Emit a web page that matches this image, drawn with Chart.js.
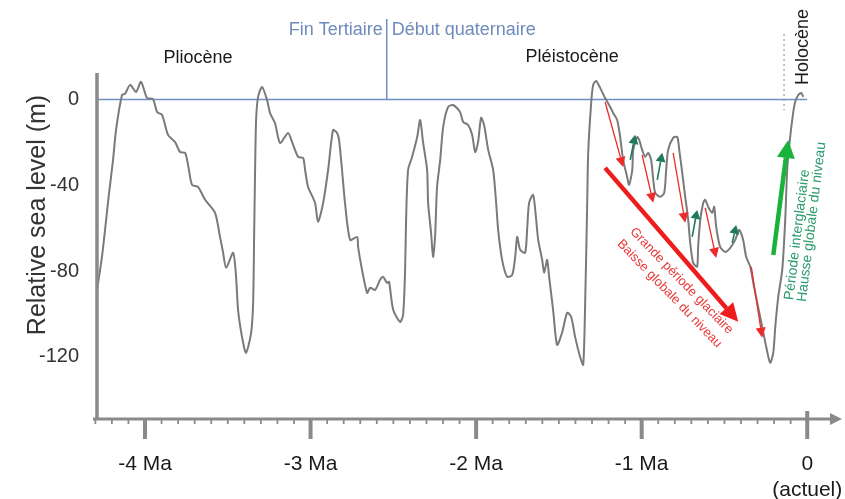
<!DOCTYPE html>
<html>
<head>
<meta charset="utf-8">
<title>Relative sea level</title>
<script src="https://cdn.jsdelivr.net/npm/chart.js@4.4.1/dist/chart.umd.min.js"></script>
<style>
  html, body { margin: 0; padding: 0; background: #fff; }
  canvas { display: block; }
</style>
</head>
<body>
<canvas id="seaChart" width="845" height="499"></canvas>
<script>
// age in Ma (negative = before present) and relative sea level in m
const ages = [-4.290,-4.260,-4.217,-4.193,-4.175,-4.139,-4.121,-4.090,-4.054,-4.024,
  -3.988,-3.952,-3.927,-3.897,-3.861,-3.819,-3.788,-3.758,-3.740,-3.716,
  -3.680,-3.637,-3.577,-3.547,-3.529,-3.510,-3.468,-3.450,-3.438,-3.414,
  -3.390,-3.359,-3.347,-3.341,-3.335,-3.329,-3.317,-3.293,-3.263,-3.245,
  -3.215,-3.184,-3.136,-3.112,-3.075,-3.045,-3.033,-3.015,-2.973,-2.955,
  -2.924,-2.894,-2.864,-2.840,-2.828,-2.810,-2.792,-2.761,-2.719,-2.713,
  -2.689,-2.658,-2.640,-2.610,-2.580,-2.562,-2.538,-2.526,-2.501,-2.459,
  -2.441,-2.429,-2.423,-2.411,-2.387,-2.356,-2.338,-2.320,-2.296,-2.290,
  -2.272,-2.260,-2.248,-2.236,-2.217,-2.199,-2.169,-2.139,-2.097,-2.078,
  -2.048,-2.024,-2.006,-1.988,-1.970,-1.952,-1.927,-1.897,-1.879,-1.867,
  -1.843,-1.813,-1.782,-1.764,-1.752,-1.734,-1.704,-1.692,-1.680,-1.656,
  -1.643,-1.625,-1.601,-1.589,-1.571,-1.559,-1.535,-1.511,-1.481,-1.450,
  -1.426,-1.402,-1.372,-1.353,-1.341,-1.329,-1.323,-1.305,-1.293,-1.275,
  -1.251,-1.221,-1.190,-1.172,-1.148,-1.130,-1.112,-1.088,-1.076,-1.057,
  -1.051,-1.027,-1.015,-0.997,-0.979,-0.961,-0.943,-0.930,-0.918,-0.888,
  -0.864,-0.852,-0.840,-0.810,-0.785,-0.773,-0.755,-0.737,-0.719,-0.707,
  -0.689,-0.665,-0.659,-0.646,-0.628,-0.616,-0.598,-0.574,-0.562,-0.550,
  -0.526,-0.495,-0.465,-0.435,-0.411,-0.387,-0.369,-0.344,-0.326,-0.302,
  -0.272,-0.248,-0.224,-0.205,-0.193,-0.175,-0.151,-0.133,-0.121,-0.103,
  -0.085,-0.073,-0.054,-0.036,-0.024];
const seaLevel = [-88.8,-73.4,-43.6,-28.2,-14.2,2.1,2.6,6.8,3.5,8.2,
  0.7,0.2,-5.8,-7.2,-16.5,-19.8,-24.5,-24.9,-30.5,-39.8,
  -40.8,-46.8,-52.9,-64.1,-71.1,-78.5,-71.5,-82.7,-98.1,-110.7,
  -118.1,-108.8,-94.8,-64.1,-32.9,-9.6,1.2,5.8,-0.2,-6.3,
  -11.0,-20.3,-15.6,-19.8,-26.8,-27.3,-32.9,-40.8,-48.2,-57.1,
  -48.2,-32.9,-14.2,-15.6,-18.9,-32.9,-48.2,-65.5,-64.1,-68.7,
  -79.5,-90.2,-87.8,-88.8,-84.1,-82.7,-85.5,-85.0,-98.1,-103.7,
  -100.4,-79.5,-56.2,-32.9,-26.8,-17.5,-9.6,-20.3,-32.9,-48.2,
  -62.2,-73.4,-64.1,-40.8,-28.2,-12.8,-3.5,-2.6,-5.8,-10.5,
  -11.9,-16.5,-24.5,-19.8,-8.6,-11.9,-23.5,-32.9,-48.2,-60.8,
  -74.8,-82.7,-81.8,-73.4,-64.1,-70.1,-71.5,-60.8,-48.2,-44.5,
  -51.5,-65.5,-74.8,-80.8,-74.8,-82.7,-98.1,-114.4,-108.8,-99.5,
  -101.3,-110.7,-120.0,-123.7,-93.4,-48.2,-24.9,-1.6,6.8,8.6,
  5.4,0.7,-3.5,-6.3,-9.6,-17.5,-28.2,-36.1,-39.8,-32.9,
  -23.5,-17.5,-18.9,-23.5,-26.8,-24.9,-28.2,-37.5,-43.6,-45.4,
  -43.6,-32.9,-23.5,-17.9,-17.5,-23.5,-34.2,-45.4,-56.2,-66.9,
  -76.2,-78.0,-68.7,-56.2,-48.2,-46.8,-50.1,-52.9,-50.1,-59.4,
  -68.7,-71.1,-69.2,-65.5,-60.8,-65.5,-73.4,-78.0,-85.5,-94.8,
  -106.0,-115.3,-122.8,-118.1,-106.0,-92.0,-79.5,-56.2,-32.9,-17.5,
  -6.3,-1.2,2.1,3.0,1.2];

const xTicks = [-4, -3, -2, -1, 0];
const xTickLabels = ['-4 Ma', '-3 Ma', '-2 Ma', '-1 Ma', ['0', '(actuel)']];
const yTicks = [0, -40, -80, -120];

const quaternaryStart = -2.54;   // Fin Tertiaire | Début quaternaire
const holoceneStart = -0.14;

// annotation arrows [x1, y1, x2, y2] in data units (Ma, m)
const glacialDrops = [
  [-1.221, -1.2, -1.112, -31.5],
  [-0.997, -25.9, -0.930, -48.2],
  [-0.810, -24.9, -0.737, -57.5],
  [-0.616, -50.6, -0.550, -73.9],
  [-0.338, -78.1, -0.272, -111.1]
];
const interglacialRises = [
  [-1.069, -28.2, -1.039, -16.5],
  [-0.906, -37.5, -0.876, -24.9],
  [-0.695, -64.1, -0.665, -51.5],
  [-0.453, -66.9, -0.429, -58.5]
];
const mainDrop = [-1.221, -31.9, -0.417, -103.7];
const mainRise = [-0.205, -72.5, -0.115, -18.9];

const FONT = '"Liberation Sans", Arial, Helvetica, sans-serif';

function drawArrow(ctx, x1, y1, x2, y2, color, width, headLen, headHalf) {
    const ang = Math.atan2(y2 - y1, x2 - x1);
    const bx = x2 - headLen * Math.cos(ang);
    const by = y2 - headLen * Math.sin(ang);
    ctx.save();
    ctx.strokeStyle = color;
    ctx.fillStyle = color;
    ctx.lineWidth = width;
    ctx.beginPath();
    ctx.moveTo(x1, y1);
    ctx.lineTo(bx, by);
    ctx.stroke();
    ctx.beginPath();
    ctx.moveTo(x2, y2);
    ctx.lineTo(bx + headHalf * Math.sin(ang), by - headHalf * Math.cos(ang));
    ctx.lineTo(bx - headHalf * Math.sin(ang), by + headHalf * Math.cos(ang));
    ctx.closePath();
    ctx.fill();
    ctx.restore();
}

function drawText(ctx, str, px, py, opts) {
    ctx.save();
    ctx.translate(px, py);
    if (opts.angle) ctx.rotate(opts.angle * Math.PI / 180);
    ctx.font = opts.font;
    ctx.fillStyle = opts.color;
    ctx.textAlign = opts.align || 'center';
    ctx.textBaseline = 'middle';
    ctx.fillText(str, 0, 0);
    ctx.restore();
}

// axes, ticks, period labels and arrows
const decorPlugin = {
    id: 'decor',
    afterDraw(chart) {
        const { ctx, chartArea: a, scales: { x, y } } = chart;
        const axisColor = '#8a8a8a';

        // y axis
        ctx.save();
        ctx.strokeStyle = axisColor;
        ctx.lineWidth = 3.5;
        ctx.beginPath();
        ctx.moveTo(a.left, a.top - 2);
        ctx.lineTo(a.left, a.bottom + 1);
        ctx.stroke();

        // x axis with arrow
        ctx.lineWidth = 3;
        ctx.beginPath();
        ctx.moveTo(a.left - 4, a.bottom);
        ctx.lineTo(a.right - 11, a.bottom);
        ctx.stroke();
        ctx.fillStyle = axisColor;
        ctx.beginPath();
        ctx.moveTo(a.right - 12, a.bottom - 6);
        ctx.lineTo(a.right, a.bottom);
        ctx.lineTo(a.right - 12, a.bottom + 6);
        ctx.closePath();
        ctx.fill();

        // minor ticks every 0.1 Ma, major every Ma
        for (let i = -43; i <= 0; i++) {
            const px = x.getPixelForValue(i / 10);
            if (i % 10 === 0) {
                ctx.lineWidth = 4;
                ctx.beginPath();
                ctx.moveTo(px, i === 0 ? a.bottom - 8 : a.bottom);
                ctx.lineTo(px, a.bottom + 20);
                ctx.stroke();
            } else {
                ctx.lineWidth = 1.8;
                ctx.beginPath();
                ctx.moveTo(px, a.bottom);
                ctx.lineTo(px, a.bottom + 5);
                ctx.stroke();
            }
        }
        ctx.restore();

        // y axis title
        drawText(ctx, 'Relative sea level (m)', 38, 215,
            { font: '25px ' + FONT, color: '#333', angle: -90 });

        // Tertiary / Quaternary boundary
        const bx = x.getPixelForValue(quaternaryStart);
        ctx.save();
        ctx.strokeStyle = '#6f8cc0';
        ctx.lineWidth = 1.5;
        ctx.beginPath();
        ctx.moveTo(bx, 19);
        ctx.lineTo(bx, y.getPixelForValue(0));
        ctx.stroke();

        // Holocene dotted marker
        const hx = x.getPixelForValue(holoceneStart);
        ctx.strokeStyle = '#8a9ab8';
        ctx.lineWidth = 1.2;
        ctx.setLineDash([2, 3]);
        ctx.beginPath();
        ctx.moveTo(hx, 34);
        ctx.lineTo(hx, y.getPixelForValue(-5));
        ctx.stroke();
        ctx.restore();

        const blue = '#6f8bbd';
        drawText(ctx, 'Fin Tertiaire', bx - 4, 30, { font: '18px ' + FONT, color: blue, align: 'right' });
        drawText(ctx, 'Début quaternaire', bx + 5, 30, { font: '18px ' + FONT, color: blue, align: 'left' });
        drawText(ctx, 'Pliocène', x.getPixelForValue(-3.68), 58, { font: '18px ' + FONT, color: '#1a1a1a' });
        drawText(ctx, 'Pléistocène', x.getPixelForValue(-1.42), 57, { font: '18px ' + FONT, color: '#1a1a1a' });
        drawText(ctx, 'Holocène', x.getPixelForValue(-0.024), 47, { font: '18px ' + FONT, color: '#1a1a1a', angle: -90 });

        // small glacial / interglacial arrows
        glacialDrops.forEach(d => drawArrow(ctx,
            x.getPixelForValue(d[0]), y.getPixelForValue(d[1]),
            x.getPixelForValue(d[2]), y.getPixelForValue(d[3]),
            '#ee2a2a', 1.3, 10, 5));
        interglacialRises.forEach(d => drawArrow(ctx,
            x.getPixelForValue(d[0]), y.getPixelForValue(d[1]),
            x.getPixelForValue(d[2]), y.getPixelForValue(d[3]),
            '#1d7a5e', 1.6, 9, 5));

        // long-term trends
        drawArrow(ctx,
            x.getPixelForValue(mainDrop[0]), y.getPixelForValue(mainDrop[1]),
            x.getPixelForValue(mainDrop[2]), y.getPixelForValue(mainDrop[3]),
            '#ee1c1c', 4.5, 18, 9);
        drawArrow(ctx,
            x.getPixelForValue(mainRise[0]), y.getPixelForValue(mainRise[1]),
            x.getPixelForValue(mainRise[2]), y.getPixelForValue(mainRise[3]),
            '#1ab33a', 4.5, 18, 9);

        const red = '#e8383a';
        drawText(ctx, 'Grande période glaciaire', x.getPixelForValue(-0.760), y.getPixelForValue(-84.6),
            { font: '13px ' + FONT, color: red, angle: 46 });
        drawText(ctx, 'Baisse globale du niveau', x.getPixelForValue(-0.832), y.getPixelForValue(-90.6),
            { font: '13px ' + FONT, color: red, angle: 46 });

        const green = '#2a9a6c';
        drawText(ctx, 'Période interglaciaire', x.getPixelForValue(-0.060), y.getPixelForValue(-63.1),
            { font: '14px ' + FONT, color: green, angle: -83 });
        drawText(ctx, 'Hausse globale du niveau', x.getPixelForValue(0.028), y.getPixelForValue(-57.1),
            { font: '14px ' + FONT, color: green, angle: -83 });
    }
};

const curve = ages.map((a, i) => ({ x: a, y: seaLevel[i] }));

new Chart(document.getElementById('seaChart'), {
    type: 'line',
    data: {
        datasets: [{
            label: 'Relative sea level',
            data: curve,
            borderColor: '#7a7a7a',
            borderWidth: 2,
            pointRadius: 0,
            tension: 0.25,
            fill: false
        }, {
            label: 'Present level',
            data: [{ x: -4.29, y: 0 }, { x: 0, y: 0 }],
            borderColor: '#7090c4',
            borderWidth: 1.4,
            pointRadius: 0,
            fill: false
        }]
    },
    options: {
        responsive: false,
        animation: false,
        layout: { padding: { top: 75, right: 3, left: 0, bottom: 0 } },
        plugins: {
            legend: { display: false },
            tooltip: { enabled: false }
        },
        scales: {
            x: {
                type: 'linear',
                min: -4.29,
                max: 0.21,
                grid: { display: false },
                border: { display: false },
                afterFit(scale) {
                    scale.height = 80;
                    scale.paddingLeft = 0;
                    scale.paddingRight = 0;
                },
                afterBuildTicks(scale) { scale.ticks = xTicks.map(v => ({ value: v })); },
                ticks: {
                    padding: 25,
                    color: '#1a1a1a',
                    font: { family: FONT, size: 21 },
                    maxRotation: 0,
                    autoSkip: false,
                    callback: function(value) {
                        const i = xTicks.indexOf(value);
                        return i >= 0 ? xTickLabels[i] : '';
                    }
                }
            },
            y: {
                type: 'linear',
                min: -149,
                max: 11.4,
                grid: { display: false },
                border: { display: false },
                afterFit(scale) {
                    scale.width = 97;
                    scale.paddingTop = 0;
                    scale.paddingBottom = 0;
                },
                afterBuildTicks(scale) { scale.ticks = yTicks.map(v => ({ value: v })); },
                ticks: {
                    padding: 10,
                    color: '#333',
                    font: { family: FONT, size: 20 },
                    callback: function(value) { return String(value); }
                }
            }
        }
    },
    plugins: [decorPlugin]
});
</script>
</body>
</html>
